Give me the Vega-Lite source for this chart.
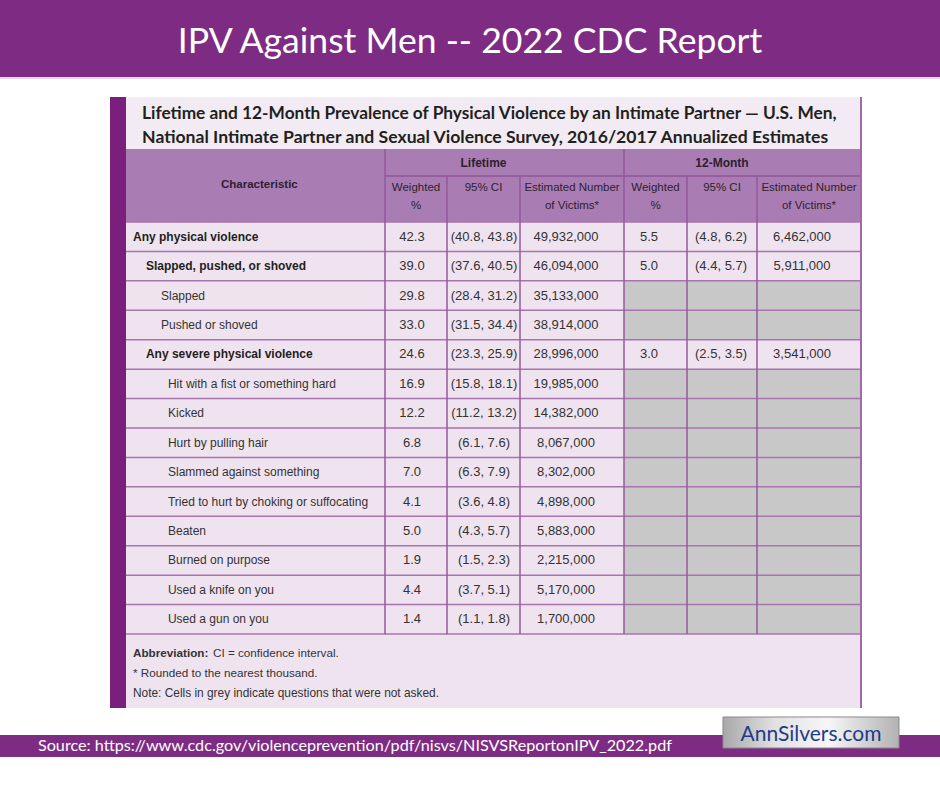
{
  "$schema": "https://vega.github.io/schema/vega-lite/v6.json",
  "width": 940,
  "height": 788,
  "autosize": {"type": "none"},
  "padding": 0,
  "background": "#ffffff",
  "config": {"view": {"stroke": null}, "axis": {"disable": true}, "text": {"font": "Liberation Sans, Arial, sans-serif"}},
  "datasets": {
    "rows": [
      {"r": 0, "label": "Any physical violence", "level": 0, "lw": 42.3, "lci": "(40.8, 43.8)", "ln": 49932000, "mw": 5.5, "mci": "(4.8, 6.2)", "mn": 6462000},
      {"r": 1, "label": "Slapped, pushed, or shoved", "level": 1, "lw": 39.0, "lci": "(37.6, 40.5)", "ln": 46094000, "mw": 5.0, "mci": "(4.4, 5.7)", "mn": 5911000},
      {"r": 2, "label": "Slapped", "level": 2, "lw": 29.8, "lci": "(28.4, 31.2)", "ln": 35133000, "mw": null, "mci": null, "mn": null},
      {"r": 3, "label": "Pushed or shoved", "level": 2, "lw": 33.0, "lci": "(31.5, 34.4)", "ln": 38914000, "mw": null, "mci": null, "mn": null},
      {"r": 4, "label": "Any severe physical violence", "level": 1, "lw": 24.6, "lci": "(23.3, 25.9)", "ln": 28996000, "mw": 3.0, "mci": "(2.5, 3.5)", "mn": 3541000},
      {"r": 5, "label": "Hit with a fist or something hard", "level": 3, "lw": 16.9, "lci": "(15.8, 18.1)", "ln": 19985000, "mw": null, "mci": null, "mn": null},
      {"r": 6, "label": "Kicked", "level": 3, "lw": 12.2, "lci": "(11.2, 13.2)", "ln": 14382000, "mw": null, "mci": null, "mn": null},
      {"r": 7, "label": "Hurt by pulling hair", "level": 3, "lw": 6.8, "lci": "(6.1, 7.6)", "ln": 8067000, "mw": null, "mci": null, "mn": null},
      {"r": 8, "label": "Slammed against something", "level": 3, "lw": 7.0, "lci": "(6.3, 7.9)", "ln": 8302000, "mw": null, "mci": null, "mn": null},
      {"r": 9, "label": "Tried to hurt by choking or suffocating", "level": 3, "lw": 4.1, "lci": "(3.6, 4.8)", "ln": 4898000, "mw": null, "mci": null, "mn": null},
      {"r": 10, "label": "Beaten", "level": 3, "lw": 5.0, "lci": "(4.3, 5.7)", "ln": 5883000, "mw": null, "mci": null, "mn": null},
      {"r": 11, "label": "Burned on purpose", "level": 3, "lw": 1.9, "lci": "(1.5, 2.3)", "ln": 2215000, "mw": null, "mci": null, "mn": null},
      {"r": 12, "label": "Used a knife on you", "level": 3, "lw": 4.4, "lci": "(3.7, 5.1)", "ln": 5170000, "mw": null, "mci": null, "mn": null},
      {"r": 13, "label": "Used a gun on you", "level": 3, "lw": 1.4, "lci": "(1.1, 1.8)", "ln": 1700000, "mw": null, "mci": null, "mn": null}
    ],
    "one": [{}]
  },
  "data": {"name": "rows"},
  "layer": [
    {"data": {"name": "one"}, "mark": {"type": "rect", "color": "#7e2c83"},
     "encoding": {
       "x": {"datum": -2, "type": "quantitative", "axis": null, "scale": {"domain": [-2,-1,0,1,2,3,4,5,6,7,8], "range": [0,110,126,385,447,520,624,687,757,861,940], "zero": false, "nice": false}},
       "x2": {"datum": 8},
       "y": {"datum": -6, "type": "quantitative", "axis": null, "scale": {"domain": [-6,-5,-4,-3,-2,-0.5,13.5,15,16,17,18], "range": [0,77,97,149,176,222,634,708,735,757,788], "zero": false, "nice": false}},
       "y2": {"datum": -5}}},
    {"data": {"name": "one"}, "mark": {"type": "rule", "color": "#ecd6ec", "strokeWidth": 2, "yOffset": 1},
     "encoding": {"x": {"datum": -2}, "x2": {"datum": 8}, "y": {"datum": -5}}},
    {"data": {"name": "one"}, "mark": {"type": "rect", "color": "#7e2c83"},
     "encoding": {"x": {"datum": -2}, "x2": {"datum": 8}, "y": {"datum": 16}, "y2": {"datum": 17}}},
    {"data": {"name": "one"}, "mark": {"type": "rect", "color": "#f2ebf3"},
     "encoding": {"x": {"datum": 0}, "x2": {"datum": 7}, "y": {"datum": -4}, "y2": {"datum": -3}}},
    {"data": {"name": "one"}, "mark": {"type": "rect", "color": "#a97db3"},
     "encoding": {"x": {"datum": 0}, "x2": {"datum": 7}, "y": {"datum": -3}, "y2": {"datum": -0.5}}},
    {"data": {"name": "one"}, "mark": {"type": "rect", "color": "#efe3f0"},
     "encoding": {"x": {"datum": 0}, "x2": {"datum": 7}, "y": {"datum": -0.5}, "y2": {"datum": 15}}},
    {"data": {"name": "one"}, "mark": {"type": "rect", "color": "#7a1f7c"},
     "encoding": {"x": {"datum": -1}, "x2": {"datum": 0}, "y": {"datum": -4}, "y2": {"datum": 15}}},
    {"transform": [{"filter": "!isValid(datum.mw)"}],
     "mark": {"type": "rect", "color": "#c9c8c9", "yOffset": -14.7, "y2Offset": 14.7},
     "encoding": {"x": {"datum": 4}, "x2": {"datum": 7}, "y": {"field": "r", "type": "quantitative"}, "y2": {"field": "r"}}},
    {"mark": {"type": "rule", "color": "#a874ae", "strokeWidth": 1.5, "yOffset": 14.7},
     "encoding": {"x": {"datum": 0}, "x2": {"datum": 7}, "y": {"field": "r", "type": "quantitative"}}},
    {"data": {"name": "one"}, "mark": {"type": "rule", "color": "#a874ae", "strokeWidth": 1.5},
     "encoding": {"x": {"datum": 0}, "x2": {"datum": 7}, "y": {"datum": -0.5}}},
    {"data": {"name": "one"}, "mark": {"type": "rule", "color": "#8f5598", "strokeWidth": 1.5},
     "encoding": {"x": {"datum": 1}, "x2": {"datum": 7}, "y": {"datum": -2}}},
    {"data": {"name": "one"}, "mark": {"type": "rule", "color": "#95599d", "strokeWidth": 1.5},
     "encoding": {"x": {"datum": 1}, "y": {"datum": -3}, "y2": {"datum": 13.5}}},
    {"data": {"name": "one"}, "mark": {"type": "rule", "color": "#95599d", "strokeWidth": 1.5},
     "encoding": {"x": {"datum": 2}, "y": {"datum": -2}, "y2": {"datum": 13.5}}},
    {"data": {"name": "one"}, "mark": {"type": "rule", "color": "#95599d", "strokeWidth": 1.5},
     "encoding": {"x": {"datum": 3}, "y": {"datum": -2}, "y2": {"datum": 13.5}}},
    {"data": {"name": "one"}, "mark": {"type": "rule", "color": "#95599d", "strokeWidth": 1.5},
     "encoding": {"x": {"datum": 4}, "y": {"datum": -3}, "y2": {"datum": 13.5}}},
    {"data": {"name": "one"}, "mark": {"type": "rule", "color": "#95599d", "strokeWidth": 1.5},
     "encoding": {"x": {"datum": 5}, "y": {"datum": -2}, "y2": {"datum": 13.5}}},
    {"data": {"name": "one"}, "mark": {"type": "rule", "color": "#95599d", "strokeWidth": 1.5},
     "encoding": {"x": {"datum": 6}, "y": {"datum": -2}, "y2": {"datum": 13.5}}},
    {"data": {"name": "one"}, "mark": {"type": "rule", "color": "#a06aa6", "strokeWidth": 2},
     "encoding": {"x": {"datum": 7}, "y": {"datum": -4}, "y2": {"datum": 15}}},
    {"data": {"name": "one"}, "mark": {"type": "text", "font": "Lato", "fontSize": 35.6, "color": "#ffffff", "align": "center", "baseline": "middle"},
     "encoding": {"x": {"datum": 2.315}, "y": {"datum": -5.45}, "text": {"value": "IPV Against Men -- 2022 CDC Report"}}},
    {"data": {"name": "one"}, "mark": {"type": "text", "font": "Lato", "fontWeight": "bold", "fontSize": 17.3, "color": "#231f20", "align": "left", "baseline": "middle"},
     "encoding": {"x": {"datum": 0.062}, "y": {"datum": -3.67}, "text": {"value": "Lifetime and 12-Month Prevalence of Physical Violence by an Intimate Partner — U.S. Men,"}}},
    {"data": {"name": "one"}, "mark": {"type": "text", "font": "Lato", "fontWeight": "bold", "fontSize": 17.6, "color": "#231f20", "align": "left", "baseline": "middle"},
     "encoding": {"x": {"datum": 0.062}, "y": {"datum": -3.21}, "text": {"value": "National Intimate Partner and Sexual Violence Survey, 2016/2017 Annualized Estimates"}}},
    {"data": {"name": "one"}, "mark": {"type": "text", "fontWeight": "bold", "fontSize": 11.5, "color": "#2e1f30", "align": "center", "baseline": "middle"},
     "encoding": {"x": {"datum": 0.515}, "y": {"datum": -1.71}, "text": {"value": "Characteristic"}}},
    {"data": {"name": "one"}, "mark": {"type": "text", "fontWeight": "bold", "fontSize": 12, "color": "#2e1f30", "align": "center", "baseline": "middle"},
     "encoding": {"x": {"datum": 2.5}, "y": {"datum": -2.5}, "text": {"value": "Lifetime"}}},
    {"data": {"name": "one"}, "mark": {"type": "text", "fontWeight": "bold", "fontSize": 12, "color": "#2e1f30", "align": "center", "baseline": "middle"},
     "encoding": {"x": {"datum": 5.5}, "y": {"datum": -2.5}, "text": {"value": "12-Month"}}},
    {"data": {"name": "one"}, "mark": {"type": "text", "fontSize": 11.5, "color": "#2e1f30", "align": "center", "baseline": "top", "lineHeight": 18},
     "encoding": {"x": {"datum": 1.5}, "y": {"datum": -1.82}, "text": {"value": ["Weighted", "%"]}}},
    {"data": {"name": "one"}, "mark": {"type": "text", "fontSize": 11.5, "color": "#2e1f30", "align": "center", "baseline": "top", "lineHeight": 18},
     "encoding": {"x": {"datum": 2.5}, "y": {"datum": -1.82}, "text": {"value": "95% CI"}}},
    {"data": {"name": "one"}, "mark": {"type": "text", "fontSize": 11.5, "color": "#2e1f30", "align": "center", "baseline": "top", "lineHeight": 18},
     "encoding": {"x": {"datum": 3.5}, "y": {"datum": -1.82}, "text": {"value": ["Estimated Number", "of Victims*"]}}},
    {"data": {"name": "one"}, "mark": {"type": "text", "fontSize": 11.5, "color": "#2e1f30", "align": "center", "baseline": "top", "lineHeight": 18},
     "encoding": {"x": {"datum": 4.5}, "y": {"datum": -1.82}, "text": {"value": ["Weighted", "%"]}}},
    {"data": {"name": "one"}, "mark": {"type": "text", "fontSize": 11.5, "color": "#2e1f30", "align": "center", "baseline": "top", "lineHeight": 18},
     "encoding": {"x": {"datum": 5.5}, "y": {"datum": -1.82}, "text": {"value": "95% CI"}}},
    {"data": {"name": "one"}, "mark": {"type": "text", "fontSize": 11.5, "color": "#2e1f30", "align": "center", "baseline": "top", "lineHeight": 18},
     "encoding": {"x": {"datum": 6.5}, "y": {"datum": -1.82}, "text": {"value": ["Estimated Number", "of Victims*"]}}},
    {"transform": [{"filter": "datum.level == 0"}],
     "mark": {"type": "text", "fontWeight": "bold", "fontSize": 12, "color": "#231f20", "align": "left", "baseline": "middle"},
     "encoding": {"x": {"datum": 0.027}, "y": {"field": "r", "type": "quantitative"}, "text": {"field": "label"}}},
    {"transform": [{"filter": "datum.level == 1"}],
     "mark": {"type": "text", "fontWeight": "bold", "fontSize": 12, "color": "#231f20", "align": "left", "baseline": "middle"},
     "encoding": {"x": {"datum": 0.077}, "y": {"field": "r", "type": "quantitative"}, "text": {"field": "label"}}},
    {"transform": [{"filter": "datum.level == 2"}],
     "mark": {"type": "text", "fontSize": 12, "color": "#333333", "align": "left", "baseline": "middle"},
     "encoding": {"x": {"datum": 0.135}, "y": {"field": "r", "type": "quantitative"}, "text": {"field": "label"}}},
    {"transform": [{"filter": "datum.level == 3"}],
     "mark": {"type": "text", "fontSize": 12, "color": "#333333", "align": "left", "baseline": "middle"},
     "encoding": {"x": {"datum": 0.162}, "y": {"field": "r", "type": "quantitative"}, "text": {"field": "label"}}},
    {"mark": {"type": "text", "fontSize": 13, "color": "#333333", "align": "center", "baseline": "middle"},
     "encoding": {"x": {"datum": 1.435}, "y": {"field": "r", "type": "quantitative"}, "text": {"field": "lw", "type": "quantitative", "format": ".1f"}}},
    {"mark": {"type": "text", "fontSize": 13, "color": "#333333", "align": "center", "baseline": "middle"},
     "encoding": {"x": {"datum": 2.507}, "y": {"field": "r", "type": "quantitative"}, "text": {"field": "lci"}}},
    {"mark": {"type": "text", "fontSize": 13, "color": "#333333", "align": "center", "baseline": "middle"},
     "encoding": {"x": {"datum": 3.442}, "y": {"field": "r", "type": "quantitative"}, "text": {"field": "ln", "type": "quantitative", "format": ","}}},
    {"transform": [{"filter": "isValid(datum.mw)"}],
     "mark": {"type": "text", "fontSize": 13, "color": "#333333", "align": "center", "baseline": "middle"},
     "encoding": {"x": {"datum": 4.397}, "y": {"field": "r", "type": "quantitative"}, "text": {"field": "mw", "type": "quantitative", "format": ".1f"}}},
    {"transform": [{"filter": "isValid(datum.mw)"}],
     "mark": {"type": "text", "fontSize": 13, "color": "#333333", "align": "center", "baseline": "middle"},
     "encoding": {"x": {"datum": 5.486}, "y": {"field": "r", "type": "quantitative"}, "text": {"field": "mci"}}},
    {"transform": [{"filter": "isValid(datum.mw)"}],
     "mark": {"type": "text", "fontSize": 13, "color": "#333333", "align": "center", "baseline": "middle"},
     "encoding": {"x": {"datum": 6.433}, "y": {"field": "r", "type": "quantitative"}, "text": {"field": "mn", "type": "quantitative", "format": ","}}},
    {"data": {"name": "one"}, "mark": {"type": "text", "fontWeight": "bold", "fontSize": 11.7, "color": "#333333", "align": "left", "baseline": "middle"},
     "encoding": {"x": {"datum": 0.027}, "y": {"datum": 13.886}, "text": {"value": "Abbreviation:"}}},
    {"data": {"name": "one"}, "mark": {"type": "text", "fontSize": 11.7, "color": "#333333", "align": "left", "baseline": "middle"},
     "encoding": {"x": {"datum": 0.336}, "y": {"datum": 13.886}, "text": {"value": "CI = confidence interval."}}},
    {"data": {"name": "one"}, "mark": {"type": "text", "fontSize": 11.7, "color": "#333333", "align": "left", "baseline": "middle"},
     "encoding": {"x": {"datum": 0.027}, "y": {"datum": 14.29}, "text": {"value": "* Rounded to the nearest thousand."}}},
    {"data": {"name": "one"}, "mark": {"type": "text", "fontSize": 11.9, "color": "#333333", "align": "left", "baseline": "middle"},
     "encoding": {"x": {"datum": 0.027}, "y": {"datum": 14.696}, "text": {"value": "Note: Cells in grey indicate questions that were not asked."}}},
    {"data": {"name": "one"}, "mark": {"type": "text", "font": "Lato", "fontSize": 16.2, "color": "#ffffff", "align": "left", "baseline": "middle"},
     "encoding": {"x": {"datum": -1.655}, "y": {"datum": 16.5}, "text": {"value": "Source: https://www.cdc.gov/violenceprevention/pdf/nisvs/NISVSReportonIPV_2022.pdf"}}},
    {"data": {"name": "one"}, "mark": {"type": "rect", "stroke": "#8a8a8a", "strokeWidth": 1, "color": {"gradient": "linear", "x1": 0, "y1": 0, "x2": 1, "y2": 0, "stops": [{"offset": 0, "color": "#a8a8a8"}, {"offset": 0.3, "color": "#e2e2e2"}, {"offset": 0.6, "color": "#f6f6f6"}, {"offset": 1, "color": "#b2b2b2"}]}},
     "encoding": {"x": {"datum": 5.514}, "x2": {"datum": 7.481}, "y": {"datum": 15.333}, "y2": {"datum": 16.59}}},
    {"data": {"name": "one"}, "mark": {"type": "text", "font": "Lato", "fontSize": 21, "color": "#1f3b8c", "align": "center", "baseline": "middle"},
     "encoding": {"x": {"datum": 6.519}, "y": {"datum": 16.0}, "text": {"value": "AnnSilvers.com"}}}
  ]
}
